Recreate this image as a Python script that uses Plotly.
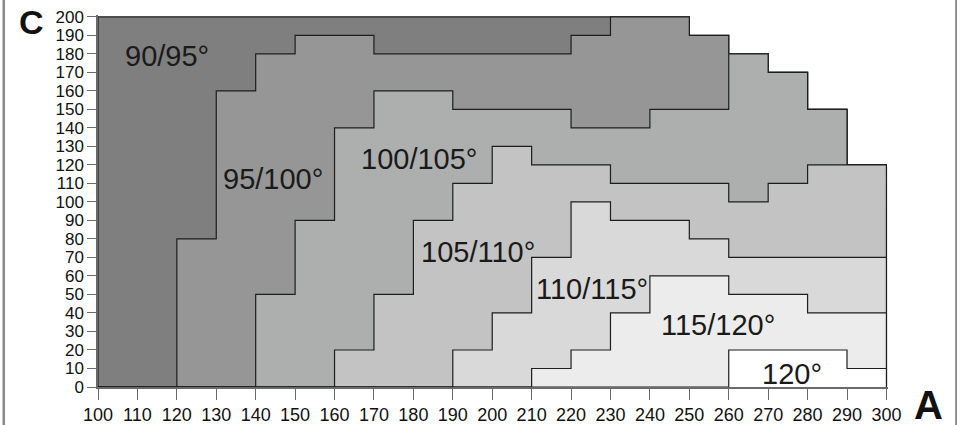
import plotly.graph_objects as go

# Column edges along A (bins of 10)
A_EDGES = [100, 110, 120, 130, 140, 150, 160, 170, 180, 190, 200,
           210, 220, 230, 240, 250, 260, 270, 280, 290, 300]
A_TICKS = A_EDGES
C_TICKS = [0, 10, 20, 30, 40, 50, 60, 70, 80, 90, 100,
           110, 120, 130, 140, 150, 160, 170, 180, 190, 200]

REGION_NAMES = ["90/95°", "95/100°", "100/105°", "105/110°", "110/115°", "115/120°", "120°"]

# Upper C value of each region in every A column (100-110, ..., 290-300)
TOP_90_95   = [200, 200, 200, 200, 200, 200, 200, 200, 200, 200, 200, 200, 200, 200, 200, 190, 180, 170, 150, 120]
TOP_95_100  = [0, 0, 80, 160, 180, 190, 190, 180, 180, 180, 180, 180, 190, 200, 200, 190, 180, 170, 150, 120]
TOP_100_105 = [0, 0, 0, 0, 50, 90, 140, 160, 160, 150, 150, 150, 140, 140, 150, 150, 180, 170, 150, 120]
TOP_105_110 = [0, 0, 0, 0, 0, 0, 20, 50, 90, 110, 130, 120, 120, 110, 110, 110, 100, 110, 120, 120]
TOP_110_115 = [0, 0, 0, 0, 0, 0, 0, 0, 0, 20, 40, 70, 100, 90, 90, 80, 70, 70, 70, 70]
TOP_115_120 = [0, 0, 0, 0, 0, 0, 0, 0, 0, 0, 0, 10, 20, 40, 60, 60, 50, 50, 40, 40]
TOP_120     = [0, 0, 0, 0, 0, 0, 0, 0, 0, 0, 0, 0, 0, 0, 0, 0, 20, 20, 20, 10]
TOPS = [TOP_90_95, TOP_95_100, TOP_100_105, TOP_105_110, TOP_110_115, TOP_115_120, TOP_120]

FILL_COLORS = ["#7f7f7f", "#969696", "#adafae", "#c3c3c3", "#d9d9d9", "#ececec", "#ffffff"]

# Label anchor positions (A, C)
LABEL_A = [117.4, 144.4, 181.4, 196.3, 225.4, 257.2, 276.1]
LABEL_C = [178.9, 112.4, 123.4, 72.7, 53.0, 33.4, 7.1]

FONT = "Liberation Sans, Arial, sans-serif"

fig = go.Figure()
for name, tops, color in zip(REGION_NAMES, TOPS, FILL_COLORS):
    xs = [A_EDGES[0]] + A_EDGES + [A_EDGES[-1]]
    ys = [0] + tops + [tops[-1], 0]
    fig.add_trace(go.Scatter(
        x=xs, y=ys, mode="lines", name=name,
        line=dict(shape="hv", color="#1e1e1e", width=1.2),
        fill="tozeroy", fillcolor=color,
        hoverinfo="skip", showlegend=False,
    ))

annotations = []
for name, ax, cy in zip(REGION_NAMES, LABEL_A, LABEL_C):
    annotations.append(dict(
        x=ax, y=cy, xref="x", yref="y", text=name, showarrow=False,
        xanchor="center", yanchor="middle",
        font=dict(family=FONT, size=29, color="#1a1a1a"),
    ))
annotations.append(dict(x=-0.0844, y=0.982, xref="paper", yref="paper", text="<b>C</b>",
                        showarrow=False, xanchor="center", yanchor="middle",
                        font=dict(family=FONT, size=34, color="#111111")))
annotations.append(dict(x=1.0508, y=-0.048, xref="paper", yref="paper", text="<b>A</b>",
                        showarrow=False, xanchor="center", yanchor="middle",
                        height=34, valign="middle",
                        font=dict(family=FONT, size=40, color="#111111")))

shapes = [
    dict(type="line", xref="paper", yref="paper", x0=-0.1193, x1=-0.1193, y0=-0.2, y1=1.2,
         line=dict(color="#8a8a8a", width=2.5)),
    dict(type="line", xref="paper", yref="paper", x0=1.0869, x1=1.0869, y0=-0.2, y1=1.2,
         line=dict(color="#8a8a8a", width=3)),
]

fig.update_layout(
    width=957, height=425,
    margin=dict(l=98, r=69, t=15, b=38, autoexpand=False),
    paper_bgcolor="white", plot_bgcolor="white",
    annotations=annotations, shapes=shapes,
    font=dict(family=FONT, color="#111111"),
    hovermode=False,
)
fig.update_xaxes(
    range=[100, 300.4], tickvals=A_TICKS, ticktext=[str(v) for v in A_TICKS],
    showgrid=False, zeroline=False, showline=True, linecolor="#6a6a6a", linewidth=1.5,
    ticks="outside", ticklen=11, tickwidth=1.3, tickcolor="#6a6a6a", automargin=False,
    tickfont=dict(family=FONT, size=18, color="#111111"),
)
fig.update_yaxes(
    range=[0, 201], tickvals=C_TICKS, ticktext=[str(v) for v in C_TICKS],
    showgrid=False, zeroline=False, showline=True, linecolor="#6a6a6a", linewidth=1.5,
    ticks="outside", ticklen=9, tickwidth=1.3, tickcolor="#6a6a6a", automargin=False,
    tickfont=dict(family=FONT, size=17, color="#111111"),
)

fig.write_html("out.html", config={"displayModeBar": False},
               post_script="document.body.style.margin='0';")
